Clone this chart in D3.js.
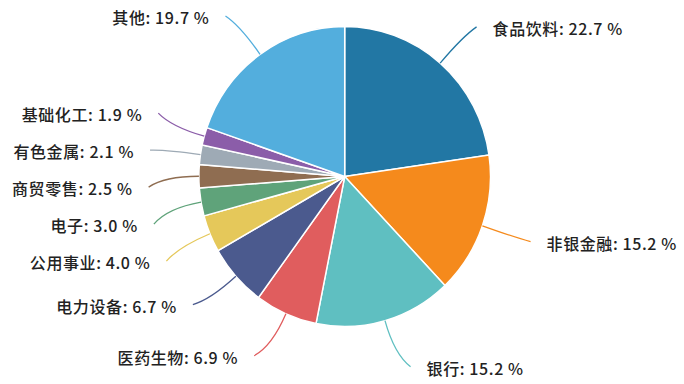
<!DOCTYPE html>
<html>
<head>
<meta charset="utf-8">
<script src="https://cdn.jsdelivr.net/npm/d3@7"></script>
<style>
  body { margin: 0; background: #fff; }
  svg { display: block; }
</style>
</head>
<body>
<div id="chart"></div>
<script>
// sector names, shares (%) and slice colours, in clockwise order from 12 o'clock
var sectors = ["食品饮料", "非银金融", "银行", "医药生物", "电力设备", "公用事业", "电子", "商贸零售", "有色金属", "基础化工", "其他"];
var shares = [22.7, 15.2, 15.2, 6.9, 6.7, 4.0, 3.0, 2.5, 2.1, 1.9, 19.7];
var colors = ["#2277a4", "#f58a1c", "#5fbfc1", "#e05d5e", "#4b5a8e", "#e5c85a", "#5fa37a", "#8f6d51", "#9eaab5", "#8b5da9", "#53aedd"];

var svgWidth = 684, svgHeight = 384;
var cx = 344.7, cy = 176.5;
var radius = 150;
var sx = 0.972;          // the reference pie is a little narrower than it is tall
var labelR = 202;        // where label lines end
var labelH = 37;         // vertical room each label needs

var svg = d3.select("#chart").append("svg")
    .attr("width", svgWidth)
    .attr("height", svgHeight);

var data = sectors.map((name, i) => ({ name: name, value: shares[i], color: colors[i] }));

var pie = d3.pie().sort(null).value(d => d.value);
var arcs = pie(data);

var arc = d3.arc().innerRadius(0).outerRadius(radius);

// slices
svg.append("g")
    .attr("transform", `translate(${cx}, ${cy}) scale(${sx}, 1)`)
    .selectAll("path")
    .data(arcs)
    .enter()
    .append("path")
    .attr("d", arc)
    .attr("fill", d => d.data.color)
    .attr("stroke", "#fff")
    .attr("stroke-width", 1.5);

// label anchor points, then push apart the ones that crowd on each side
var labels = arcs.map(a => {
    var ang = (a.startAngle + a.endAngle) / 2;
    var side = Math.sin(ang) >= 0 ? 1 : -1;
    var r0 = side > 0 ? 198 : 205;
    return {
        d: a.data,
        ang: ang,
        side: side,
        y: cy - r0 * Math.cos(ang)
    };
});

[1, -1].forEach(side => {
    var list = labels.filter(l => l.side === side).sort((a, b) => a.y - b.y);
    if (list.length < 2) return;
    var last = -Infinity, total = 0;
    list.forEach(l => {
        var top = l.y - labelH / 2;
        if (top < last) {
            total += last - top;
            l.y += last - top;
        }
        last = l.y + labelH / 2;
    });
    if (total > 0) list.forEach(l => { l.y -= total / list.length; });
    list.forEach(l => { l.y = Math.max(l.y, 16); });
});

labels.forEach(l => {
    var dy = Math.max(-labelR, Math.min(labelR, l.y - cy));
    l.x = cx + l.side * sx * Math.sqrt(labelR * labelR - dy * dy);
    l.x0 = cx + sx * radius * Math.sin(l.ang);
    l.y0 = cy - radius * Math.cos(l.ang);
    l.x1 = cx + sx * 185 * Math.sin(l.ang);
    l.y1 = cy - 185 * Math.cos(l.ang);
});

// label lines
svg.append("g")
    .selectAll("path")
    .data(labels)
    .enter()
    .append("path")
    .attr("d", l => `M${l.x0},${l.y0} Q${l.x1},${l.y1} ${l.x},${l.y}`)
    .attr("fill", "none")
    .attr("stroke", l => l.d.color)
    .attr("stroke-width", 1.3);

// label texts
svg.append("g")
    .selectAll("text")
    .data(labels)
    .enter()
    .append("text")
    .attr("x", l => l.x + l.side * 16)
    .attr("y", l => l.y + 4)
    .attr("dominant-baseline", "middle")
    .attr("text-anchor", l => l.side > 0 ? "start" : "end")
    .attr("font-family", "'Noto Sans CJK SC', 'Noto Sans', sans-serif")
    .attr("font-size", 16)
    .attr("font-weight", 500)
    .attr("letter-spacing", 0.6)
    .attr("fill", "#222")
    .text(l => `${l.d.name}: ${l.d.value.toFixed(1)} %`);
</script>
</body>
</html>
